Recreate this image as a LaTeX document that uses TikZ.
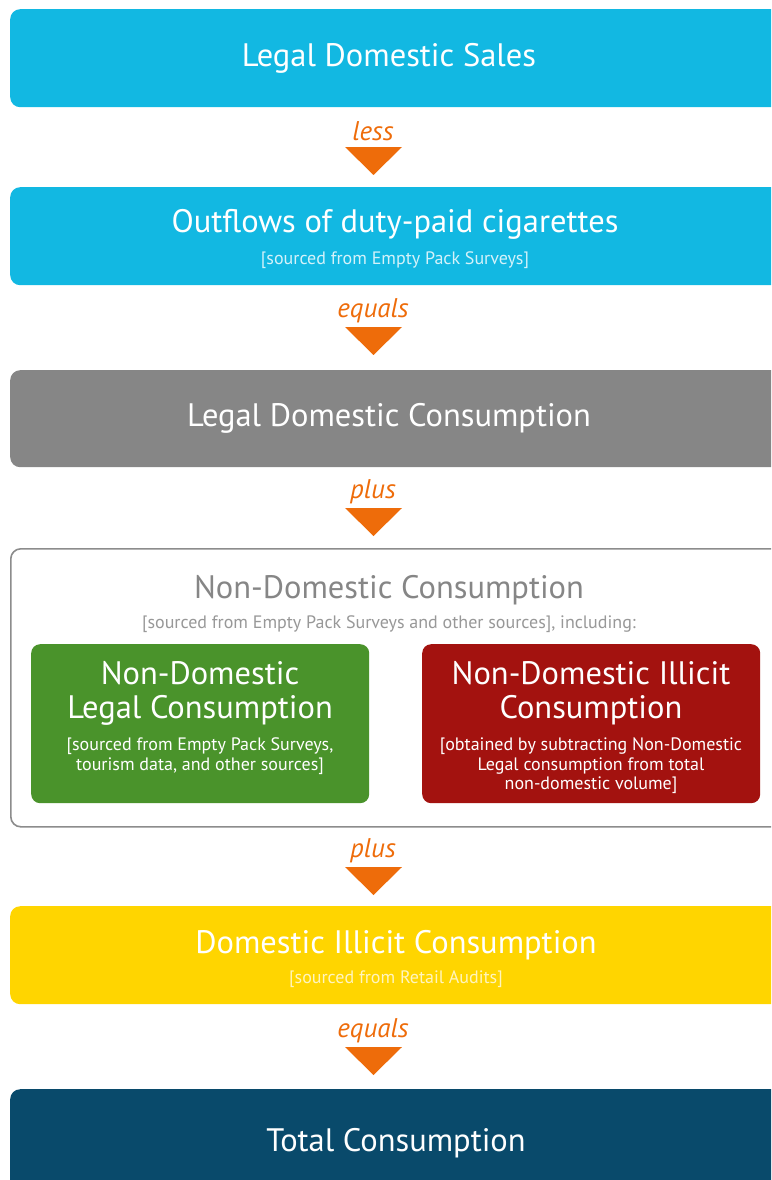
\documentclass[tikz,border=0pt]{standalone}
\usepackage{fontspec}
\setmainfont{PT Sans}
\definecolor{cyanbox}{HTML}{12B8E2}
\definecolor{graybox}{HTML}{868686}
\definecolor{greenbox}{HTML}{4A932B}
\definecolor{redbox}{HTML}{A3120F}
\definecolor{yellowbox}{HTML}{FFD500}
\definecolor{navybox}{HTML}{094A6B}
\definecolor{arrorange}{HTML}{EE6C0A}
\definecolor{outline}{HTML}{8C8C8C}
\tikzset{
  band/.style={rounded corners=10pt, minimum width=790pt, anchor=north west, inner sep=0pt, draw=none},
  inbox/.style={rounded corners=9pt, minimum width=338pt, minimum height=159pt, anchor=north west, inner sep=0pt, draw=none},
  title/.style={text=white, font=\fontsize{32.5}{34}\selectfont, inner sep=0pt},
  sub/.style={font=\fontsize{18}{20}\selectfont, inner sep=0pt},
  opword/.style={text=arrorange, font=\itshape\fontsize{27}{30}\selectfont, inner sep=0pt},
  tri/.style={fill=arrorange, draw=none},
}
\begin{document}
\begin{tikzpicture}[x=1pt,y=-1pt]
\useasboundingbox (0,0) rectangle (771,1180);
\clip (0,0) rectangle (771,1180);

% boxes
\node[band, fill=cyanbox, minimum height=98pt] (sales) at (10,9) {};
\node[title] (salesT) at (389,58) {Legal Domestic Sales};

\node[band, fill=cyanbox, minimum height=98pt] (out) at (10,187) {};
\node[title] (outT) at (395,224) {Outflows of duty-paid cigarettes};
\node[sub, text=white!82!cyanbox] (outS) at (395,260) {[sourced from Empty Pack Surveys]};

\node[band, fill=graybox, minimum height=97pt] (ldc) at (10,370) {};
\node[title] (ldcT) at (389,418) {Legal Domestic Consumption};

\node[band, draw=outline, line width=1.6pt, fill=white, minimum height=278pt] (ndc) at (10,548) {};
\node[title, text=graybox] (ndcT) at (389,590) {Non-Domestic Consumption};
\node[sub, text=graybox!85] (ndcS) at (389,624) {[sourced from Empty Pack Surveys and other sources], including:};

\node[inbox, fill=greenbox] (ndl) at (31,644) {};
\node[title, align=center] (ndlT) at (200,693) {Non-Domestic\\Legal Consumption};
\node[sub, text=white, align=center] (ndlS) at (200,756) {[sourced from Empty Pack Surveys,\\tourism data, and other sources]};

\node[inbox, fill=redbox] (ndi) at (422,644) {};
\node[title, align=center] (ndiT) at (591,693) {Non-Domestic Illicit\\Consumption};
\node[sub, text=white, align=center, font=\fontsize{18}{19.5}\selectfont] (ndiS) at (591,766) {[obtained by subtracting Non-Domestic\\Legal consumption from total\\non-domestic volume]};

\node[band, fill=yellowbox, minimum height=98pt] (dic) at (10,906) {};
\node[title] (dicT) at (396,945) {Domestic Illicit Consumption};
\node[sub, text=white!75!yellowbox] (dicS) at (396,979) {[sourced from Retail Audits]};

\node[band, fill=navybox, minimum height=110pt] (tot) at (10,1089) {};
\node[title] (totT) at (396,1143) {Total Consumption};

% operators and arrow triangles
\node[opword] (op1) at (373,131) {less};
\fill[tri] (345,147) -- (402,147) -- (373.5,175) -- cycle;
\node[opword] (op2) at (373,311) {equals};
\fill[tri] (345,327) -- (402,327) -- (373.5,355) -- cycle;
\node[opword] (op3) at (373,492) {plus};
\fill[tri] (345,508) -- (402,508) -- (373.5,536) -- cycle;
\node[opword] (op4) at (373,851) {plus};
\fill[tri] (345,867) -- (402,867) -- (373.5,895) -- cycle;
\node[opword] (op5) at (373,1031) {equals};
\fill[tri] (345,1047) -- (402,1047) -- (373.5,1075) -- cycle;
\end{tikzpicture}
\end{document}
